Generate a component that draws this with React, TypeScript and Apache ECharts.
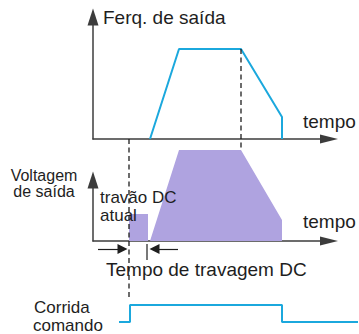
import React, { useEffect, useRef } from 'react';
import * as echarts from 'echarts';

// time axis: units along the shared time scale (0 = vertical axis)
const timeMax = 236;
const cmdTimeMax = 265;

// Output frequency (top)
const freqTimes = [57, 86, 148, 189, 189];
const freqLevels = [0, 90, 90, 22, 0];
const freqMax = 122;

// Output voltage (middle) incl. DC brake current block
const voltTimes = [36, 36, 55, 55, 57, 86, 148, 189, 189];
const voltLevels = [0, 27, 27, 0, 0, 91, 91, 21, 0];
const voltMax = 61;

// Run command (bottom)
const cmdTimes = [26, 37, 37, 189, 189, 265];
const cmdLevels = [0, 0, 1, 1, 0, 0];

// guide lines (in middle-panel units)
const startGuideTimes = [36, 36];
const startGuideLevels = [102, -59];
const decelGuideTimes = [148, 148];
const decelGuideLevels = [192, 91];
const brakeTickTimes = [54, 54];
const brakeTickLevels = [-3, -19];
const brakeArrowLevel = -8;
const brakeArrowLeft = [5, 29.5];
const brakeArrowRight = [85, 61.5];

const zip = (xs: number[], ys: number[]) => xs.map((x, i) => [x, ys[i]]);

const FONT = '"Liberation Sans", Arial, sans-serif';
const AXIS_COLOR = '#3c3c3c';
const INK = '#1e1e1e';
const BLUE = '#1ba8dd';
const PURPLE = '#afa3e0';

function txt(text: string, x: number, y: number, size: number, align = 'left') {
  return {
    type: 'text',
    x,
    y,
    z: 100,
    silent: true,
    style: {
      text,
      fill: INK,
      fontSize: size,
      fontFamily: FONT,
      align,
      textAlign: align,
      verticalAlign: 'middle',
      textVerticalAlign: 'middle',
    },
  };
}

export default function App() {
  const ref = useRef<HTMLDivElement>(null);
  useEffect(() => {
    if (!ref.current) return;
    const chart = echarts.init(ref.current, null, { renderer: 'svg' });
    const hidden = { show: false };
    const axisLine = (size: number[]) => ({
      show: true,
      onZero: false,
      symbol: ['none', 'triangle'],
      symbolSize: size,
      lineStyle: { color: AXIS_COLOR, width: 1.5 },
    });
    const option: any = {
      animation: false,
      grid: [
        { left: 93, top: 17, width: 236, height: 122 },
        { left: 93, top: 180, width: 236, height: 61 },
        { left: 93, top: 305, width: 265, height: 17 },
      ],
      xAxis: [
        { gridIndex: 0, type: 'value', min: 0, max: timeMax, axisLine: axisLine([9, 18]), axisTick: hidden, axisLabel: hidden, splitLine: hidden },
        { gridIndex: 1, type: 'value', min: 0, max: timeMax, axisLine: axisLine([9, 18]), axisTick: hidden, axisLabel: hidden, splitLine: hidden },
        { gridIndex: 2, type: 'value', min: 0, max: cmdTimeMax, show: false },
      ],
      yAxis: [
        { gridIndex: 0, type: 'value', min: 0, max: freqMax, axisLine: axisLine([11, 17]), axisTick: hidden, axisLabel: hidden, splitLine: hidden },
        { gridIndex: 1, type: 'value', min: 0, max: voltMax, axisLine: axisLine([11, 17]), axisTick: hidden, axisLabel: hidden, splitLine: hidden },
        { gridIndex: 2, type: 'value', min: 0, max: 1, show: false },
      ],
      series: [
        {
          type: 'line', xAxisIndex: 1, yAxisIndex: 1, clip: false, silent: true,
          data: zip(voltTimes, voltLevels), showSymbol: false,
          lineStyle: { width: 0, color: PURPLE }, areaStyle: { color: PURPLE, opacity: 1 },
        },
        {
          type: 'line', xAxisIndex: 0, yAxisIndex: 0, clip: false, silent: true,
          data: zip(freqTimes, freqLevels), showSymbol: false,
          lineStyle: { width: 2, color: BLUE },
        },
        {
          type: 'line', xAxisIndex: 2, yAxisIndex: 2, clip: false, silent: true,
          data: zip(cmdTimes, cmdLevels), showSymbol: false,
          lineStyle: { width: 2, color: BLUE },
        },
        {
          type: 'line', xAxisIndex: 1, yAxisIndex: 1, clip: false, silent: true,
          data: zip(startGuideTimes, startGuideLevels), showSymbol: false,
          lineStyle: { width: 1.3, color: INK, type: [5, 3.5] },
        },
        {
          type: 'line', xAxisIndex: 1, yAxisIndex: 1, clip: false, silent: true,
          data: zip(decelGuideTimes, decelGuideLevels), showSymbol: false,
          lineStyle: { width: 1.3, color: INK, type: [5, 3.5] },
        },
        {
          type: 'line', xAxisIndex: 1, yAxisIndex: 1, clip: false, silent: true,
          data: zip(brakeTickTimes, brakeTickLevels), showSymbol: false,
          lineStyle: { width: 1.2, color: INK },
        },
        {
          type: 'lines', coordinateSystem: 'cartesian2d', xAxisIndex: 1, yAxisIndex: 1,
          clip: false, silent: true,
          symbol: ['none', 'triangle'],
          symbolSize: [7, 10],
          lineStyle: { color: INK, width: 1.2, opacity: 1, curveness: 0 },
          data: [
            { coords: [[brakeArrowLeft[0], brakeArrowLevel], [brakeArrowLeft[1], brakeArrowLevel]] },
            { coords: [[brakeArrowRight[0], brakeArrowLevel], [brakeArrowRight[1], brakeArrowLevel]] },
          ],
        },
      ],
      graphic: [
        txt('Ferq. de saída', 103, 17, 19),
        txt('tempo', 303, 121, 19),
        txt('Voltagem', 44, 175, 16, 'center'),
        txt('de saída', 44, 191, 16, 'center'),
        txt('travão DC', 100, 197, 17),
        txt('atual', 100, 215, 17),
        txt('tempo', 303, 221, 19),
        txt('Tempo de travagem DC', 106, 269, 19),
        txt('Corrida', 34, 307, 17),
        txt('comando', 33, 325, 17),
      ],
    };
    chart.setOption(option);
    return () => chart.dispose();
  }, []);
  return (
    <div
      ref={ref}
      style={{ position: 'fixed', left: 0, top: 0, width: 359, height: 334, background: '#fff' }}
    />
  );
}
